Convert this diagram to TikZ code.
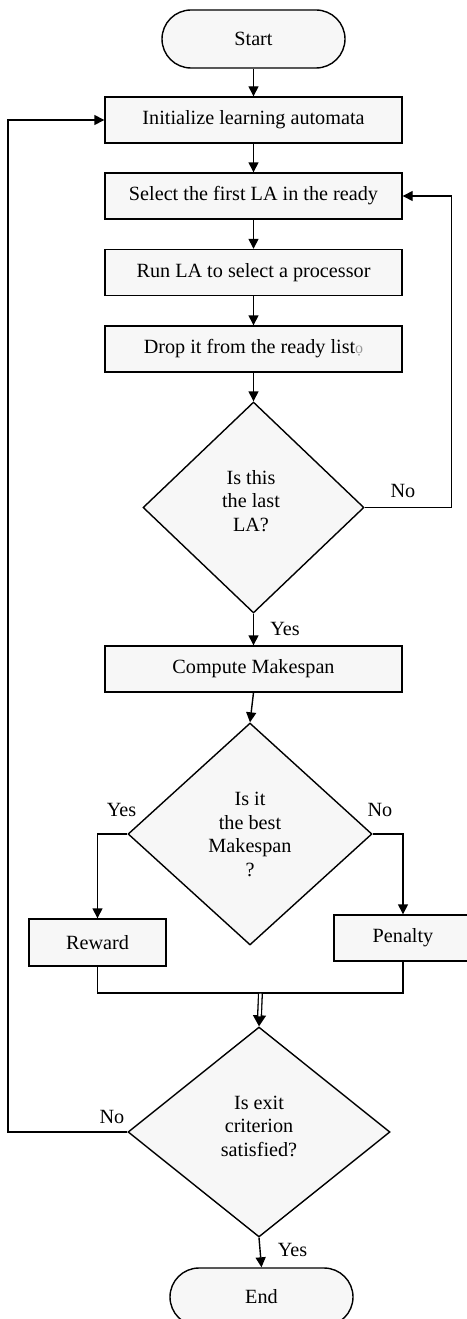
\documentclass[tikz,border=0pt]{standalone}
\usepackage{fontspec}
\setmainfont{Liberation Serif}
\usetikzlibrary{shapes.geometric,arrows.meta,calc}
\definecolor{boxfill}{HTML}{F7F7F7}
\begin{document}
\begin{tikzpicture}[x=1pt,y=-1pt,
  font=\fontsize{20.2}{23.5}\selectfont,
  line width=1.4pt,
  arr/.style={-{Triangle[length=10pt,width=10pt]}},
  proc/.style={draw, fill=boxfill, minimum width=297pt, minimum height=46pt, inner sep=0pt},
  term/.style={draw, fill=boxfill, rounded corners=29pt, minimum width=183pt, minimum height=58pt, inner sep=0pt},
  dec/.style={draw, fill=boxfill, diamond, inner sep=0pt},
  lab/.style={inner sep=0pt, align=center}]
\useasboundingbox (0,0) rectangle (466,1319);

\node[term] (start) at (253.5,39) {Start};
\node[proc] (init) at (253.5,120) {Initialize learning automata};
\node[proc] (sel) at (253.5,196) {Select the first LA in the ready};
\node[proc] (run) at (253.5,272.5) {Run LA to select a processor};
\node[proc] (drop) at (253.5,349) {Drop it from the ready list{\color{gray!80}\fontsize{16}{16}\selectfont ọ}};
\node[dec, minimum width=221pt, minimum height=211pt] (d1) at (253.5,507.5) {};
\node[lab] (d1t) at (251,501) {Is this\\the last\\LA?};
\node[proc] (comp) at (253.5,669) {Compute Makespan};
\node[dec, minimum width=244pt, minimum height=222pt] (d2) at (250,834) {};
\node[lab] (d2t) at (250,834.5) {Is it\\the best\\Makespan\\?};
\node[proc, minimum width=137pt, minimum height=47pt] (rew) at (97.5,942.5) {Reward};
\node[proc, minimum width=138pt, minimum height=46pt] (pen) at (403,938) {Penalty};
\coordinate (jl) at (97.5,993);
\coordinate (jr) at (403,993);
\coordinate (j) at (260.5,993);
\node[dec, minimum width=262pt, minimum height=210pt] (d3) at (259,1132) {};
\node[lab] (d3t) at (259,1126) {Is exit\\criterion\\satisfied?};
\node[term] (end) at (261.5,1297) {End};

% labels
\node[lab] (no1) at (403,491) {No};
\node[lab] (yes1) at (285,629) {Yes};
\node[lab] (yes2) at (121.5,810) {Yes};
\node[lab] (no2) at (380,810) {No};
\node[lab] (no3) at (112,1117) {No};
\node[lab] (yes3) at (292.5,1250) {Yes};

% connectors
\draw[arr] (start) -- (init);
\draw[arr] (init) -- (sel);
\draw[arr] (sel) -- (run);
\draw[arr] (run) -- (drop);
\draw[arr] (drop) -- (d1.north);
\draw[arr] (d1.east) -- ++(87,0) |- (sel.east);
\draw[arr] (d1.south) -- (comp.north);
\draw[arr] (comp.south) -- (d2.north);
\draw[arr] (d2.west) -| (rew.north);
\draw[arr] (d2.east) -| (pen.north);
\draw (rew.south) -- (jl) -- (jr) -- (pen.south);
\draw[-{Triangle[length=11pt,width=13pt]}] (j) -- (d3.north);
\draw[line width=5pt, shorten >=10pt, shorten <=0.7pt] (j) -- (d3.north);
\draw[white, line width=2.4pt, shorten >=10pt, shorten <=0.7pt] (j) -- (d3.north);
\draw[arr] (d3.west) -- (8,1132) |- (init.west);
\draw[arr] (d3.south) -- (end.north);
\end{tikzpicture}
\end{document}
